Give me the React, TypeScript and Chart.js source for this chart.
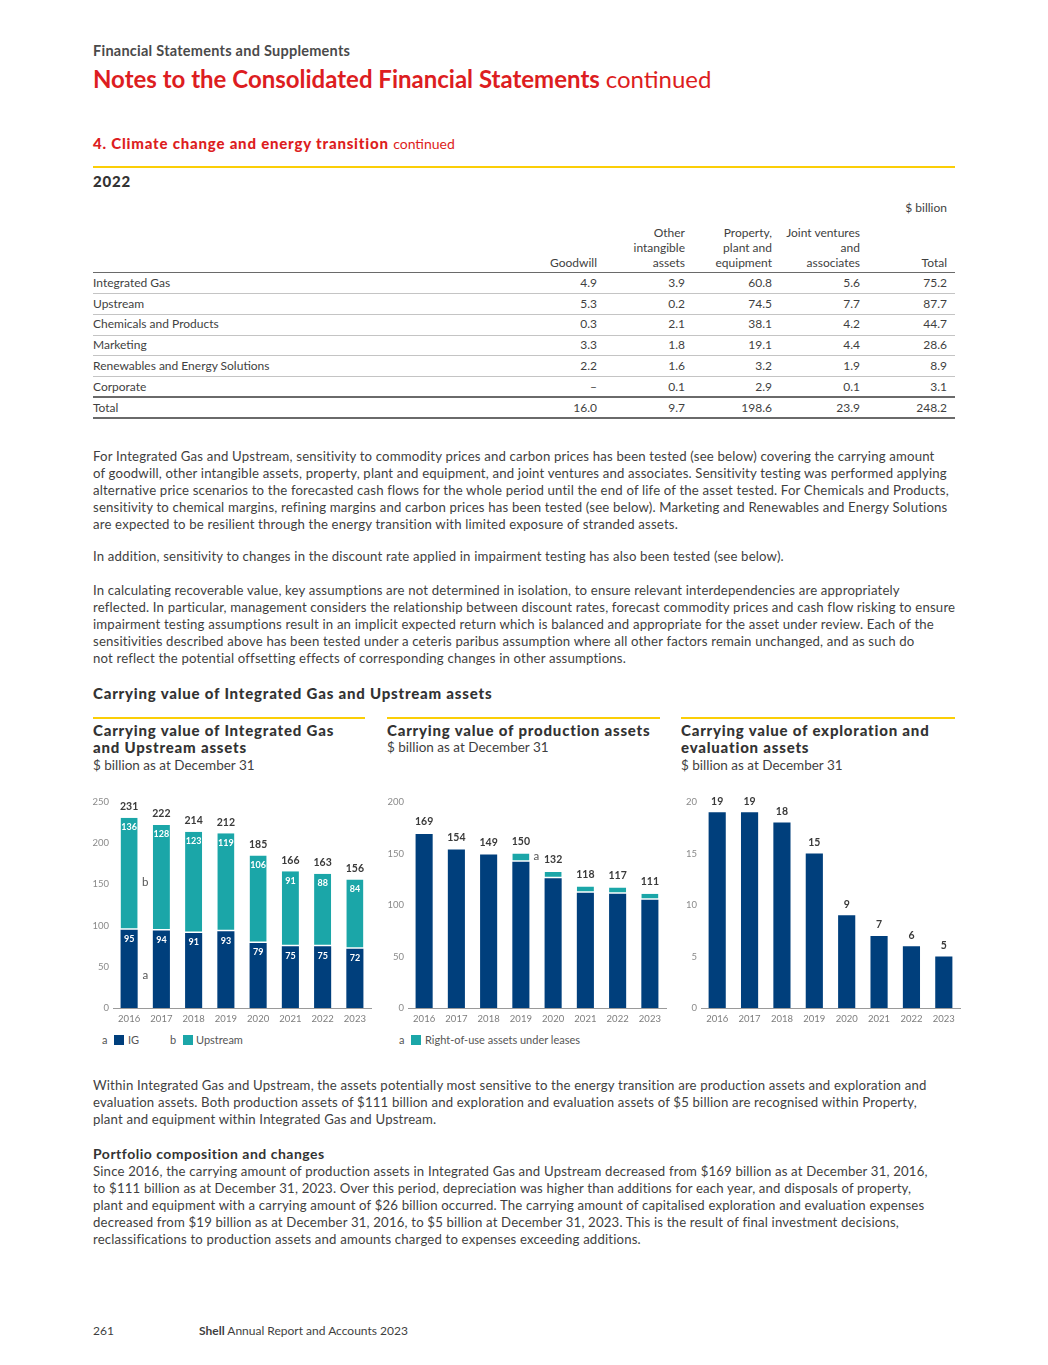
import React, { useEffect, useRef } from "react";
import { Chart, registerables } from "chart.js";

Chart.register(...registerables);

// ---------- DATA ----------
const years = ["2016", "2017", "2018", "2019", "2020", "2021", "2022", "2023"];
const igValues = [95, 94, 91, 93, 79, 75, 75, 72];
const upstreamValues = [136, 128, 123, 119, 106, 91, 88, 84];
const igUpstreamTotals = [231, 222, 214, 212, 185, 166, 163, 156];
const productionTotals = [169, 154, 149, 150, 132, 118, 117, 111];
const productionOwned = [169, 154, 149, 142, 126, 112, 111, 105];
const rightOfUse = [0, 0, 0, 8, 6, 6, 6, 6];
const explorationValues = [19, 19, 18, 15, 9, 7, 6, 5];

const tableColumns = [
  ["Goodwill"],
  ["Other", "intangible", "assets"],
  ["Property,", "plant and", "equipment"],
  ["Joint ventures", "and", "associates"],
  ["Total"],
];
const tableRowNames = [
  "Integrated Gas",
  "Upstream",
  "Chemicals and Products",
  "Marketing",
  "Renewables and Energy Solutions",
  "Corporate",
  "Total",
];
const tableRowValues = [
  ["4.9", "3.9", "60.8", "5.6", "75.2"],
  ["5.3", "0.2", "74.5", "7.7", "87.7"],
  ["0.3", "2.1", "38.1", "4.2", "44.7"],
  ["3.3", "1.8", "19.1", "4.4", "28.6"],
  ["2.2", "1.6", "3.2", "1.9", "8.9"],
  ["–", "0.1", "2.9", "0.1", "3.1"],
  ["16.0", "9.7", "198.6", "23.9", "248.2"],
];

const para1 = [
  "For Integrated Gas and Upstream, sensitivity to commodity prices and carbon prices has been tested (see below) covering the carrying amount",
  "of goodwill, other intangible assets, property, plant and equipment, and joint ventures and associates. Sensitivity testing was performed applying",
  "alternative price scenarios to the forecasted cash flows for the whole period until the end of life of the asset tested. For Chemicals and Products,",
  "sensitivity to chemical margins, refining margins and carbon prices has been tested (see below). Marketing and Renewables and Energy Solutions",
  "are expected to be resilient through the energy transition with limited exposure of stranded assets.",
];
const para2 = [
  "In addition, sensitivity to changes in the discount rate applied in impairment testing has also been tested (see below).",
];
const para3 = [
  "In calculating recoverable value, key assumptions are not determined in isolation, to ensure relevant interdependencies are appropriately",
  "reflected. In particular, management considers the relationship between discount rates, forecast commodity prices and cash flow risking to ensure",
  "impairment testing assumptions result in an implicit expected return which is balanced and appropriate for the asset under review. Each of the",
  "sensitivities described above has been tested under a ceteris paribus assumption where all other factors remain unchanged, and as such do",
  "not reflect the potential offsetting effects of corresponding changes in other assumptions.",
];
const para4 = [
  "Within Integrated Gas and Upstream, the assets potentially most sensitive to the energy transition are production assets and exploration and",
  "evaluation assets. Both production assets of $111 billion and exploration and evaluation assets of $5 billion are recognised within Property,",
  "plant and equipment within Integrated Gas and Upstream.",
];
const para5 = [
  "Since 2016, the carrying amount of production assets in Integrated Gas and Upstream decreased from $169 billion as at December 31, 2016,",
  "to $111 billion as at December 31, 2023. Over this period, depreciation was higher than additions for each year, and disposals of property,",
  "plant and equipment with a carrying amount of $26 billion occurred. The carrying amount of capitalised exploration and evaluation expenses",
  "decreased from $19 billion as at December 31, 2016, to $5 billion at December 31, 2023. This is the result of final investment decisions,",
  "reclassifications to production assets and amounts charged to expenses exceeding additions.",
];

// ---------- STYLE ----------
const FONT = "Lato, 'Noto Sans', sans-serif";
const RED = "#DD1D21";
const YELLOW = "#FBCE07";
const TEXT = "#3f3f3f";
const DARK_BLUE = "#003F7C";
const TEAL = "#1BA6A8";

type TProps = {
  x: number;
  y: number;
  size?: number;
  weight?: number;
  color?: string;
  align?: "left" | "right";
  ls?: number;
  children: React.ReactNode;
};

function T({ x, y, size = 13, weight = 400, color = TEXT, align = "left", ls = 0, children }: TProps) {
  const lh = Math.round(size * 1.3);
  const style: React.CSSProperties = {
    position: "absolute",
    top: y - lh / 2,
    lineHeight: lh + "px",
    fontSize: size,
    fontWeight: weight,
    color,
    whiteSpace: "nowrap",
    fontFamily: FONT,
    letterSpacing: ls ? ls + "px" : undefined,
  };
  if (align === "right") style.right = 1048 - x;
  else style.left = x;
  return <div style={style}>{children}</div>;
}

function Para({ lines, y, x = 93 }: { lines: string[]; y: number; x?: number }) {
  return (
    <>
      {lines.map((l, i) => (
        <T key={i} x={x} y={y + i * 17} size={13.2} ls={0.17}>
          {l}
        </T>
      ))}
    </>
  );
}

function Heading({ x, y, children, color = "#333" }: { x: number; y: number; children: React.ReactNode; color?: string }) {
  return (
    <T x={x} y={y} size={15} weight={900} color={color} ls={0.8}>
      {children}
    </T>
  );
}

function HLine({ x1, x2, y, h = 1, color = "#c8c8c8" }: { x1: number; x2: number; y: number; h?: number; color?: string }) {
  return (
    <div
      style={{ position: "absolute", left: x1, width: x2 - x1, top: y - h / 2, height: h, background: color }}
    />
  );
}

// ---------- CHARTS ----------
function baseOptions(max: number, step: number) {
  return {
    responsive: false,
    animation: false as const,
    devicePixelRatio: 1,
    layout: { padding: { top: 12, right: 1, left: 0, bottom: 0 } },
    plugins: { legend: { display: false }, tooltip: { enabled: false } },
    scales: {
      x: {
        stacked: true,
        offset: true,
        grid: { display: false, drawTicks: false },
        border: { display: true, color: "#9a9a9a", width: 1 },
        ticks: {
          color: "#7d7d7d",
          padding: 5,
          maxRotation: 0,
          autoSkip: false,
          font: { family: FONT, size: 9.5 },
        },
        afterFit: (s: any) => {
          s.height = 24;
        },
      },
      y: {
        stacked: true,
        min: 0,
        max,
        grid: { display: false, drawTicks: false },
        border: { display: false },
        ticks: {
          stepSize: step,
          color: "#8a8a8a",
          padding: 4,
          font: { family: FONT, size: 9.5 },
        },
        afterFit: (s: any) => {
          s.width = 28;
        },
      },
    },
  };
}

function labelPlugin(draw: (chart: any, ctx: CanvasRenderingContext2D) => void) {
  return {
    id: "valueLabels",
    afterDatasetsDraw(chart: any) {
      const ctx = chart.ctx as CanvasRenderingContext2D;
      ctx.save();
      ctx.textAlign = "center";
      ctx.textBaseline = "middle";
      draw(chart, ctx);
      ctx.restore();
    },
  };
}

function ChartCanvas({ left, top, width, height, build }: { left: number; top: number; width: number; height: number; build: () => any }) {
  const ref = useRef<HTMLCanvasElement | null>(null);
  useEffect(() => {
    if (!ref.current) return;
    const chart = new Chart(ref.current, build());
    return () => chart.destroy();
  }, []);
  return (
    <canvas
      ref={ref}
      width={width}
      height={height}
      style={{ position: "absolute", left, top, width, height }}
    />
  );
}

const BAR_PCT = 0.53;
const TOTAL_FONT = `700 10.5px ${FONT}`;
const INNER_FONT = `700 9px ${FONT}`;
const TOTAL_COLOR = "#3a3a3a";

function buildIgUpstream() {
  return {
    type: "bar",
    data: {
      labels: years,
      datasets: [
        { label: "IG", data: igValues, backgroundColor: DARK_BLUE, barPercentage: BAR_PCT, categoryPercentage: 1 },
        {
          label: "Upstream",
          data: upstreamValues,
          backgroundColor: TEAL,
          borderColor: "#ffffff",
          borderWidth: { top: 0, left: 0, right: 0, bottom: 1.5 },
          borderSkipped: false,
          barPercentage: BAR_PCT,
          categoryPercentage: 1,
        },
      ],
    },
    options: baseOptions(250, 50),
    plugins: [
      labelPlugin((chart, ctx) => {
        const m0 = chart.getDatasetMeta(0).data;
        const m1 = chart.getDatasetMeta(1).data;
        const ys = chart.scales.y;
        years.forEach((_, i) => {
          ctx.fillStyle = "#ffffff";
          ctx.font = INNER_FONT;
          ctx.fillText(String(igValues[i]), m0[i].x, m0[i].y + 9.5);
          ctx.fillText(String(upstreamValues[i]), m1[i].x, m1[i].y + 9.5);
          ctx.fillStyle = TOTAL_COLOR;
          ctx.font = TOTAL_FONT;
          ctx.fillText(String(igUpstreamTotals[i]), m1[i].x, m1[i].y - 11);
        });
        ctx.fillStyle = "#555";
        ctx.font = `400 11.5px ${FONT}`;
        const mx = (m0[0].x + m0[1].x) / 2;
        ctx.fillText("b", mx, ys.getPixelForValue(152));
        ctx.fillText("a", mx, ys.getPixelForValue(40));
      }),
    ],
  };
}

function buildProduction() {
  return {
    type: "bar",
    data: {
      labels: years,
      datasets: [
        { label: "Production", data: productionOwned, backgroundColor: DARK_BLUE, barPercentage: BAR_PCT, categoryPercentage: 1 },
        {
          label: "Right-of-use assets under leases",
          data: rightOfUse,
          backgroundColor: TEAL,
          borderColor: "#ffffff",
          borderWidth: { top: 0, left: 0, right: 0, bottom: 1.5 },
          borderSkipped: false,
          barPercentage: BAR_PCT,
          categoryPercentage: 1,
        },
      ],
    },
    options: baseOptions(200, 50),
    plugins: [
      labelPlugin((chart, ctx) => {
        const m0 = chart.getDatasetMeta(0).data;
        const ys = chart.scales.y;
        years.forEach((_, i) => {
          ctx.fillStyle = TOTAL_COLOR;
          ctx.font = TOTAL_FONT;
          ctx.fillText(String(productionTotals[i]), m0[i].x, ys.getPixelForValue(productionTotals[i]) - 12);
        });
        const b = m0[3];
        ctx.fillStyle = "#555";
        ctx.font = `400 11.5px ${FONT}`;
        ctx.textAlign = "left";
        ctx.fillText("a", b.x + b.width / 2 + 4, ys.getPixelForValue(productionOwned[3] + rightOfUse[3] / 2) - 1);
      }),
    ],
  };
}

function buildExploration() {
  return {
    type: "bar",
    data: {
      labels: years,
      datasets: [
        { label: "Exploration and evaluation", data: explorationValues, backgroundColor: DARK_BLUE, barPercentage: BAR_PCT, categoryPercentage: 1 },
      ],
    },
    options: baseOptions(20, 5),
    plugins: [
      labelPlugin((chart, ctx) => {
        const m0 = chart.getDatasetMeta(0).data;
        years.forEach((_, i) => {
          ctx.fillStyle = TOTAL_COLOR;
          ctx.font = TOTAL_FONT;
          ctx.fillText(String(explorationValues[i]), m0[i].x, m0[i].y - 11);
        });
      }),
    ],
  };
}

function Swatch({ x, y, color }: { x: number; y: number; color: string }) {
  return <div style={{ position: "absolute", left: x, top: y - 5, width: 10, height: 10, background: color }} />;
}

// ---------- PAGE ----------
export default function App() {
  const colRight = [597, 685, 772, 860, 947];
  const rowY = [283, 304, 324, 345, 366, 387, 408];
  const rowLines = [293.5, 314, 335, 355.5, 376];
  return (
    <div
      style={{
        position: "absolute",
        left: 0,
        top: 0,
        width: 1048,
        height: 1365,
        background: "#ffffff",
        overflow: "hidden",
        fontFamily: FONT,
      }}
    >
      <T x={93} y={50} size={14.5} weight={700} color="#4a4a4a" ls={0.25}>
        Financial Statements and Supplements
      </T>
      <T x={93} y={78} size={24} weight={700} color={RED}>
        Notes to the Consolidated Financial Statements <span style={{ fontWeight: 400 }}>continued</span>
      </T>
      <T x={93} y={143} size={15} weight={900} color={RED} ls={0.8}>
        4. Climate change and energy transition{" "}
        <span style={{ fontWeight: 400, fontSize: 14, letterSpacing: 0 }}>continued</span>
      </T>
      <HLine x1={93} x2={955} y={167} h={2.5} color={YELLOW} />
      <Heading x={93} y={181}>2022</Heading>
      <T x={947} y={208} size={12} align="right">
        $ billion
      </T>

      {tableColumns.map((col, ci) =>
        col.map((line, li) => (
          <T key={`h${ci}-${li}`} x={colRight[ci]} y={263 - (col.length - 1 - li) * 15} size={12} align="right">
            {line}
          </T>
        ))
      )}
      <HLine x1={93} x2={955} y={272.5} h={1.5} color="#6a6a6a" />
      {tableRowNames.map((name, ri) => (
        <React.Fragment key={`r${ri}`}>
          <T x={93} y={rowY[ri]} size={12}>
            {name}
          </T>
          {tableRowValues[ri].map((v, ci) => (
            <T key={`c${ri}-${ci}`} x={colRight[ci]} y={rowY[ri]} size={12} align="right">
              {v}
            </T>
          ))}
        </React.Fragment>
      ))}
      {rowLines.map((y, i) => (
        <HLine key={`l${i}`} x1={93} x2={955} y={y} h={1} color="#c4c4c4" />
      ))}
      <HLine x1={93} x2={955} y={397} h={1.5} color="#6a6a6a" />
      <HLine x1={93} x2={955} y={418} h={1.5} color="#6a6a6a" />

      <Para lines={para1} y={456} />
      <Para lines={para2} y={556} />
      <Para lines={para3} y={590} />

      <Heading x={93} y={693}>Carrying value of Integrated Gas and Upstream assets</Heading>

      {/* Panel headers */}
      <HLine x1={93} x2={365} y={718} h={2.5} color={YELLOW} />
      <HLine x1={387} x2={660} y={718} h={2.5} color={YELLOW} />
      <HLine x1={681} x2={955} y={718} h={2.5} color={YELLOW} />

      <Heading x={93} y={730}>Carrying value of Integrated Gas</Heading>
      <Heading x={93} y={747}>and Upstream assets</Heading>
      <T x={93} y={765} size={13.5}>$ billion as at December 31</T>

      <Heading x={387} y={730}>Carrying value of production assets</Heading>
      <T x={387} y={747} size={13.5}>$ billion as at December 31</T>

      <Heading x={681} y={730}>Carrying value of exploration and</Heading>
      <Heading x={681} y={747}>evaluation assets</Heading>
      <T x={681} y={765} size={13.5}>$ billion as at December 31</T>

      <ChartCanvas left={85} top={790} width={287} height={242} build={buildIgUpstream} />
      <ChartCanvas left={380} top={790} width={287} height={242} build={buildProduction} />
      <ChartCanvas left={673} top={790} width={288} height={242} build={buildExploration} />

      {/* Legends */}
      <T x={102} y={1040} size={11} color="#555">a</T>
      <Swatch x={114} y={1040} color={DARK_BLUE} />
      <T x={128} y={1040} size={11} color="#555">IG</T>
      <T x={170} y={1040} size={11} color="#555">b</T>
      <Swatch x={183} y={1040} color={TEAL} />
      <T x={196} y={1040} size={11} color="#555">Upstream</T>

      <T x={399} y={1040} size={11} color="#555">a</T>
      <Swatch x={411} y={1040} color={TEAL} />
      <T x={425} y={1040} size={11} color="#555">Right-of-use assets under leases</T>

      <Para lines={para4} y={1085} />
      <T x={93} y={1154} size={14} weight={700} color="#333" ls={0.5}>
        Portfolio composition and changes
      </T>
      <Para lines={para5} y={1171} />

      <T x={93} y={1331} size={12}>261</T>
      <T x={199} y={1331} size={12}>
        <span style={{ fontWeight: 700 }}>Shell</span> Annual Report and Accounts 2023
      </T>
    </div>
  );
}
